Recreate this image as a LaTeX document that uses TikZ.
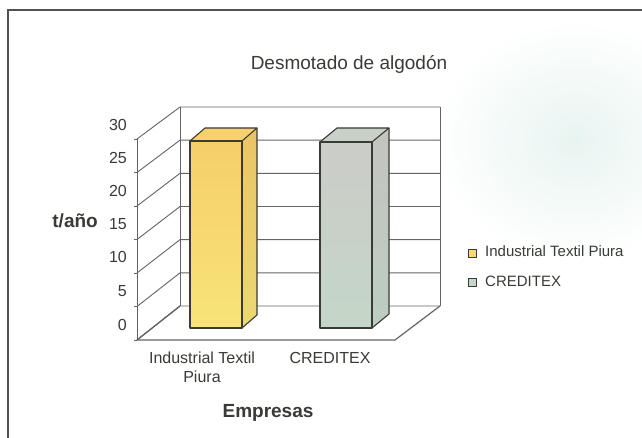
\documentclass[tikz,border=0pt]{standalone}
\usepackage{fontspec}
\setmainfont{Liberation Sans}
\definecolor{tinta}{RGB}{58,58,54}
\definecolor{rejilla}{RGB}{100,100,98}
\definecolor{marco}{RGB}{80,82,78}
\definecolor{amarillo}{RGB}{248,228,120}
\definecolor{amarilloalto}{RGB}{246,206,106}
\definecolor{gris}{RGB}{196,214,200}
\definecolor{grisalto}{RGB}{204,204,200}
\definecolor{velo}{RGB}{232,244,241}
\tikzset{
  linea rejilla/.style={rejilla, line width=0.9pt},
  borde barra/.style={draw=tinta, line width=1.1pt, line join=round},
  texto eje/.style={font=\fontsize{16}{18}\selectfont, text=tinta, inner sep=0pt},
  texto negrita/.style={font=\fontsize{19}{21}\selectfont\bfseries, text=tinta, inner sep=0pt},
  texto leyenda/.style={font=\fontsize{15}{17}\selectfont, text=tinta, inner sep=0pt, anchor=base west},
}
\begin{document}
\begin{tikzpicture}[x=1pt,y=-1pt]
  \useasboundingbox (0,0) rectangle (642,438);
  \fill[white] (0,0) rectangle (642,438);
  % fondo
  \shade[inner color=velo, outer color=white] (575,140) ellipse (140 and 120);
  \draw[marco, line width=2.6pt] (8,445) -- (8,10) -- (650,10);

  % paredes y rejilla
  \foreach \k in {0,...,6}{
    \pgfmathsetmacro\yatras{306-33.17*\k}
    \pgfmathsetmacro\yfrente{340-33.5*\k}
    \draw[linea rejilla] (137,\yfrente) -- (180,\yatras) -- (440,\yatras);
    \draw[linea rejilla] (134,\yfrente) -- (137,\yfrente);
  }
  \draw[linea rejilla] (180,107) -- (180,306);
  \draw[linea rejilla] (440,107) -- (440,306);
  \draw[linea rejilla] (137,139) -- (137,340);
  \draw[linea rejilla, line width=1.3pt] (137,340) -- (180,306);
  \draw[linea rejilla, line width=1.2pt] (137,340) -- (395,340) -- (440,306);

  % barra Industrial Textil Piura
  \shade[top color=amarilloalto, bottom color=amarillo] (190,141) rectangle (242,328);
  \shade[top color=amarilloalto!95!black, bottom color=amarillo!95!black] (242,141) -- (257,128) -- (257,315) -- (242,328) -- cycle;
  \fill[amarilloalto!85!amarillo] (190,141) -- (205,128) -- (257,128) -- (242,141) -- cycle;
  \draw[borde barra] (190,141) rectangle (242,328);
  \draw[borde barra] (190,141) -- (205,128) -- (257,128) -- (242,141);
  \draw[borde barra] (257,128) -- (257,315) -- (242,328);

  % barra CREDITEX
  \shade[top color=grisalto, bottom color=gris] (320,142) rectangle (372,328);
  \shade[top color=grisalto!96!black, bottom color=gris!96!black] (372,142) -- (389,128) -- (389,314) -- (372,328) -- cycle;
  \fill[grisalto!60!gris] (320,142) -- (337,128) -- (389,128) -- (372,142) -- cycle;
  \draw[borde barra] (320,142) rectangle (372,328);
  \draw[borde barra] (320,142) -- (337,128) -- (389,128) -- (372,142);
  \draw[borde barra] (389,128) -- (389,314) -- (372,328);

  % valores del eje
  \foreach \v/\y in {0/325,5/291,10/257,15/224,20/191,25/158,30/125}
    \node[texto eje, anchor=east] (marca\v) at (127,\y) {\v};

  % textos
  \node[font=\fontsize{19}{21}\selectfont, text=tinta, inner sep=0pt, anchor=base] (titulo) at (349,70) {Desmotado de algodón};
  \node[texto negrita, anchor=base east] (unidad) at (98,228) {t/año};
  \node[texto negrita, anchor=base] (empresas) at (268,417) {Empresas};
  \node[texto eje, anchor=base, align=center, font=\fontsize{16}{19}\selectfont] (catA) at (202,382) {Industrial Textil\\Piura};
  \node[texto eje, anchor=base] (catB) at (330,363) {CREDITEX};

  % leyenda
  \filldraw[draw=tinta, fill=amarillo!90!orange, line width=0.8pt] (468,249) rectangle (476,257);
  \filldraw[draw=tinta, fill=gris, line width=0.8pt] (468,278) rectangle (476,286);
  \node[texto leyenda] (leyendaA) at (485,257) {Industrial Textil Piura};
  \node[texto leyenda] (leyendaB) at (485,286) {CREDITEX};
\end{tikzpicture}
\end{document}
